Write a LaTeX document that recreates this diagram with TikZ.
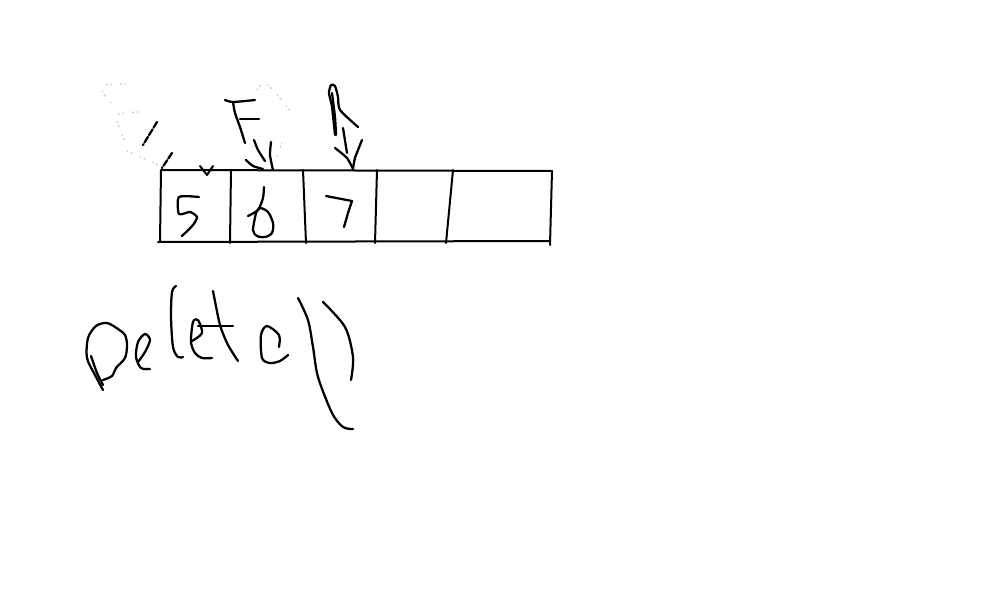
\documentclass[tikz,border=0pt]{standalone}
\tikzset{
  pen/.style={
    black,
    line width=1.7pt,
    line cap=round,
    line join=round
  }
}
\tikzset{
  penThin/.style={
    pen,
    line width=1.5pt
  }
}
\tikzset{
  penErased/.style={
    gray!45,
    line width=0.9pt,
    dash pattern=on 1pt off 2pt on 1.5pt off 6pt
  }
}
\begin{document}
\begin{tikzpicture}[x=0.75pt, y=-0.75pt]
    \useasboundingbox (0,0) rectangle (1000,600);

    % array
    \draw[penThin] (161,170) -- (552,171);
    \draw[penThin] (158,242) -- (550,241);
    \draw[penThin] (161,170) -- (160,242);
    \draw[penThin] (552,171) -- (550,245);
    \foreach \top/\bottom in {231/230, 303/306, 377/375, 453/446}{%
        \draw[penThin] (\top,170) -- (\bottom,243);%
    }

    % digits
    \draw[pen] plot[smooth, tension=0.4] coordinates {(199,197) (179,197) (179,214) (190,212) (197,217) (193,225) (182,236)};
    \draw[pen] plot[smooth, tension=0.4] coordinates {(264,187) (263,198) (258,210) (248,216)};
    \draw[pen] plot[smooth, tension=0.5] coordinates {(256,213) (260,208) (268,212) (273,223) (272,233) (265,237) (257,236) (253,230) (256,213)};
    \draw[pen] (326,196) -- (352,201) -- (348,213) -- (344,227);

    % left arrow, mostly rubbed out
    \draw[penErased] plot[smooth] coordinates {(126,84) (105,85) (103,93) (113,105)};
    \draw[penErased] plot[smooth] coordinates {(138,112) (117,115) (120,130) (125,142)};
    \draw[penErased] plot[smooth] coordinates {(127,151) (143,158) (165,168)};
    \draw[pen, dash pattern=on 5pt off 1.5pt] (157,122) -- (143,145);
    \draw[pen, dash pattern=on 5pt off 1.5pt] (172,153) -- (162,168);
    \draw[penThin] (200,166) -- (207,175) -- (213,166);

    % middle arrow
    \draw[penErased] plot[smooth] coordinates {(257,90) (263,83) (273,90) (292,113)};
    \draw[penErased] (282,142) -- (277,157);
    \draw[pen] plot[smooth, tension=0.4] coordinates {(225,100) (233,102) (255,100)};
    \draw[pen] plot[smooth, tension=0.4] coordinates {(233,102) (235,113) (240,127) (245,143)};
    \draw[pen] (240,119) -- (259,119);
    \draw[pen] plot[smooth, tension=0.4] coordinates {(254,140) (258,150) (265,161)};
    \draw[pen] plot[smooth, tension=0.4] coordinates {(271,142) (270,155) (273,170)};
    \draw[pen] plot[smooth, tension=0.4] coordinates {(246,160) (253,166) (263,169)};

    % right arrow
    \draw[pen] plot[smooth, tension=0.4] coordinates {(335,135) (332,107) (329,93) (331,85) (335,86) (338,97) (340,110) (358,127)};
    \draw[pen] plot[smooth, tension=0.4] coordinates {(332,93) (335,117) (336,135)};
    \draw[pen] (343,128) -- (347,153);
    \draw[pen] plot[smooth, tension=0.4] coordinates {(335,148) (347,158) (353,169)};
    \draw[pen] plot[smooth, tension=0.4] coordinates {(362,140) (355,158) (353,169)};

    % word
    \draw[pen] plot[smooth, tension=0.5] coordinates {(103,380) (112,376) (116,368) (125,358) (127,345) (125,335) (118,329) (107,323) (96,326) (88,338) (87,358) (95,375) (103,390)};
    \draw[pen] plot[smooth, tension=0.4] coordinates {(91,356) (97,373) (103,385)};
    \draw[pen] plot[smooth, tension=0.5] coordinates {(138,362) (145,352) (150,340) (145,334) (138,342) (136,357) (141,368) (150,369)};
    \draw[pen] plot[smooth, tension=0.5] coordinates {(176,286) (172,292) (171,317) (173,347) (178,357) (183,357)};
    \draw[pen] plot[smooth, tension=0.5] coordinates {(192,341) (202,333) (198,320) (193,322) (191,342) (195,353) (202,358) (212,358)};
    \draw[pen] (198,326) -- (233,326);
    \draw[pen] plot[smooth, tension=0.4] coordinates {(213,291) (220,325) (228,345) (238,361)};
    \draw[pen] plot[smooth, tension=0.5] coordinates {(279,347) (279,335) (267,326) (261,335) (262,358) (270,363) (280,361) (288,355)};
    \draw[pen] plot[smooth, tension=0.5] coordinates {(298,298) (308,320) (313,347) (318,377) (332,413) (343,427) (353,429)};
    \draw[pen] plot[smooth, tension=0.5] coordinates {(323,302) (345,327) (353,357) (351,380)};
\end{tikzpicture}
\end{document}
